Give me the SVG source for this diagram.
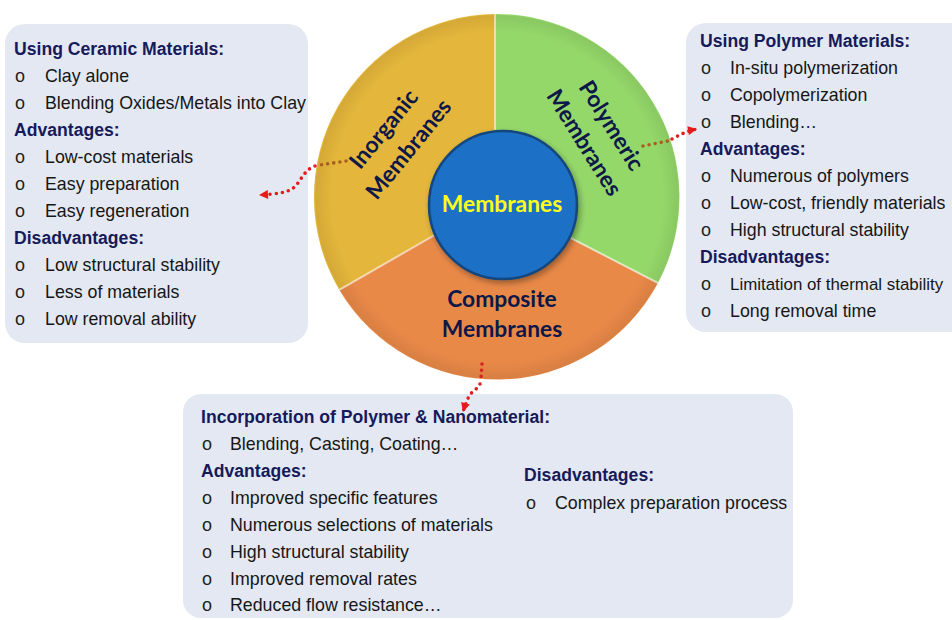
<svg xmlns="http://www.w3.org/2000/svg" width="952" height="620" viewBox="0 0 952 620">
  <defs>
    <style>
      .box { fill: #E3E8F3; }
      .hd { font-family: "Liberation Sans", Arial, sans-serif; font-weight: bold; font-size: 17.6px; fill: #161A5A; }
      .tx { font-family: "Liberation Sans", Arial, sans-serif; font-size: 17.8px; fill: #161616; }
      .tx.fit { font-size: 16.9px; }
      .bl { font-family: "Liberation Sans", Arial, sans-serif; font-size: 18px; fill: #1E1E1E; }
      .seg { font-family: Lato, "Liberation Sans", sans-serif; font-weight: bold; font-size: 22.8px; fill: #0E1848; text-anchor: middle; }
      .core { font-family: Lato, "Liberation Sans", sans-serif; font-weight: bold; font-size: 22.8px; fill: #FFFF1A; text-anchor: middle; }
      .dot-out { fill: none; stroke: #E31B1B; stroke-width: 3.6; stroke-linecap: round; stroke-dasharray: 0 6.2; }
      .dot-in { fill: none; stroke: #A85E1E; stroke-width: 3.6; stroke-linecap: round; stroke-dasharray: 0 6.2; }
      .sep { stroke: #FFFFFF; stroke-opacity: 0.55; stroke-width: 2; }
    </style>
    <marker id="head" viewBox="0 0 10 10" refX="10" refY="5" markerWidth="10" markerHeight="9" markerUnits="userSpaceOnUse" orient="auto">
      <path d="M0,0 L10,5 L0,10 z" fill="#E31B1B"/>
    </marker>
    <radialGradient id="rim" cx="497" cy="197" r="183" gradientUnits="userSpaceOnUse">
      <stop offset="0.9" stop-color="#000" stop-opacity="0"/>
      <stop offset="1" stop-color="#000" stop-opacity="0.08"/>
    </radialGradient>
    <filter id="shadow" x="-20%" y="-20%" width="140%" height="140%">
      <feGaussianBlur in="SourceAlpha" stdDeviation="3"/>
      <feOffset dx="2" dy="3" result="b"/>
      <feComponentTransfer><feFuncA type="linear" slope="0.35"/></feComponentTransfer>
      <feMerge><feMergeNode/><feMergeNode in="SourceGraphic"/></feMerge>
    </filter>
  </defs>

  <rect width="952" height="620" fill="#FFFFFF"/>

  <!-- Wheel of membrane types -->
  <g id="wheel">
    <g id="inorganic">
      <path d="M495,200 L495,14 A183,183 0 0,0 339.3,289.9 Z" fill="#E4B63B"/>
      <g transform="translate(396,139) rotate(-51)">
        <text class="seg" y="-8">Inorganic</text>
        <text class="seg" y="24">Membranes</text>
      </g>
    </g>
    <g id="polymeric">
      <path d="M495,200 L495,14 A183,183 0 0,1 658,283 Z" fill="#95D86A"/>
      <g transform="translate(598,134) rotate(58)">
        <text class="seg" y="-8">Polymeric</text>
        <text class="seg" y="24">Membranes</text>
      </g>
    </g>
    <g id="composite">
      <path d="M495,200 L658,283 A183,183 0 0,1 339.3,289.9 Z" fill="#E98948"/>
      <text class="seg" x="502" y="307">Composite</text>
      <text class="seg" x="502" y="337">Membranes</text>
    </g>
    <circle cx="497" cy="197" r="182" fill="url(#rim)"/>
    <line class="sep" x1="495" y1="14" x2="495" y2="140"/>
    <line class="sep" x1="339.3" y1="289.9" x2="440" y2="232"/>
    <line class="sep" x1="658" y1="283" x2="565" y2="235"/>
    <g id="core">
      <circle cx="503" cy="205" r="74" fill="#1A6FC6" stroke="#17467C" stroke-width="2.5" filter="url(#shadow)"/>
      <text class="core" x="502" y="212">Membranes</text>
    </g>
  </g>

  <!-- Ceramic (inorganic) details -->
  <g id="box-ceramic">
    <rect class="box" x="5" y="24" width="303" height="319" rx="20"/>
    <text class="hd" x="14" y="55">Using Ceramic Materials:</text>
    <text class="bl" x="15" y="82">o</text><text class="tx" x="45" y="82">Clay alone</text>
    <text class="bl" x="15" y="109">o</text><text class="tx" x="45" y="109">Blending Oxides/Metals into Clay</text>
    <text class="hd" x="14" y="136">Advantages:</text>
    <text class="bl" x="15" y="163">o</text><text class="tx" x="45" y="163">Low-cost materials</text>
    <text class="bl" x="15" y="190">o</text><text class="tx" x="45" y="190">Easy preparation</text>
    <text class="bl" x="15" y="217">o</text><text class="tx" x="45" y="217">Easy regeneration</text>
    <text class="hd" x="14" y="244">Disadvantages:</text>
    <text class="bl" x="15" y="271">o</text><text class="tx" x="45" y="271">Low structural stability</text>
    <text class="bl" x="15" y="298">o</text><text class="tx" x="45" y="298">Less of materials</text>
    <text class="bl" x="15" y="325">o</text><text class="tx" x="45" y="325">Low removal ability</text>
  </g>

  <!-- Polymer details -->
  <g id="box-polymer">
    <rect class="box" x="686" y="23" width="290" height="309" rx="20"/>
    <text class="hd" x="700" y="47">Using Polymer Materials:</text>
    <text class="bl" x="701" y="74">o</text><text class="tx" x="730" y="74">In-situ polymerization</text>
    <text class="bl" x="701" y="101">o</text><text class="tx" x="730" y="101">Copolymerization</text>
    <text class="bl" x="701" y="128">o</text><text class="tx" x="730" y="128">Blending…</text>
    <text class="hd" x="700" y="155">Advantages:</text>
    <text class="bl" x="701" y="182">o</text><text class="tx" x="730" y="182">Numerous of polymers</text>
    <text class="bl" x="701" y="209">o</text><text class="tx" x="730" y="209">Low-cost, friendly materials</text>
    <text class="bl" x="701" y="236">o</text><text class="tx" x="730" y="236">High structural stability</text>
    <text class="hd" x="700" y="263">Disadvantages:</text>
    <text class="bl" x="701" y="290">o</text><text class="tx fit" x="730" y="290">Limitation of thermal stability</text>
    <text class="bl" x="701" y="317">o</text><text class="tx" x="730" y="317">Long removal time</text>
  </g>

  <!-- Composite details -->
  <g id="box-composite">
    <rect class="box" x="183" y="394" width="610" height="224" rx="18"/>
    <text class="hd" x="201" y="423">Incorporation of Polymer &amp; Nanomaterial:</text>
    <text class="bl" x="202" y="450">o</text><text class="tx" x="230" y="450">Blending, Casting, Coating…</text>
    <text class="hd" x="201" y="477">Advantages:</text>
    <text class="bl" x="202" y="504">o</text><text class="tx" x="230" y="504">Improved specific features</text>
    <text class="bl" x="202" y="531">o</text><text class="tx" x="230" y="531">Numerous selections of materials</text>
    <text class="bl" x="202" y="558">o</text><text class="tx" x="230" y="558">High structural stability</text>
    <text class="bl" x="202" y="585">o</text><text class="tx" x="230" y="585">Improved removal rates</text>
    <text class="bl" x="202" y="611">o</text><text class="tx" x="230" y="611">Reduced flow resistance…</text>
    <text class="hd" x="524" y="481">Disadvantages:</text>
    <text class="bl" x="526" y="509">o</text><text class="tx" x="555" y="509">Complex preparation process</text>
  </g>

  <!-- Dotted connectors from each sector to its box -->
  <g id="connectors">
    <path class="dot-in" d="M346,161 L320,165"/>
    <path class="dot-out" d="M315,166 C303,170 300,184 292,189 C285,193 276,194 259,195" marker-end="url(#head)"/>
    <path class="dot-in" d="M643,146 L668,141"/>
    <path class="dot-out" d="M672,139 C680,135 686,131 697,129" marker-end="url(#head)"/>
    <path class="dot-out" style="stroke:#D8231C" d="M482,364 L481,378"/>
    <path class="dot-out" d="M480,384 C478,389 472,391 469,396 C467,401 465,405 463,412" marker-end="url(#head)"/>
  </g>
</svg>
